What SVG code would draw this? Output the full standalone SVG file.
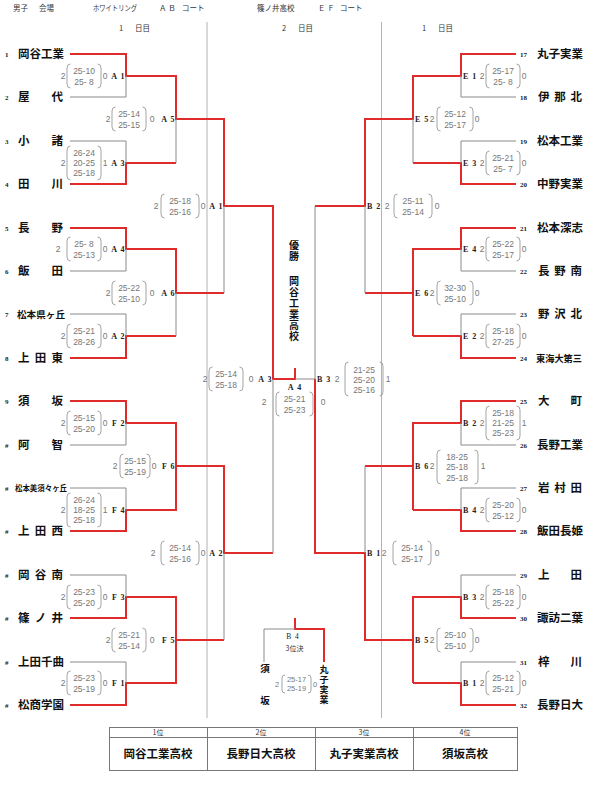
<svg xmlns="http://www.w3.org/2000/svg" xmlns:xlink="http://www.w3.org/1999/xlink" width="589" height="792" viewBox="0 0 589 792">
<style>
.r{fill:none;stroke:#e02b2b;stroke-width:2}
.g{fill:none;stroke:#8a8a8a;stroke-width:1}
.d{fill:none;stroke:#a0a0a0;stroke-width:0.8}
.s{font-family:'Liberation Sans',sans-serif;font-size:8.5px;fill:#777;text-anchor:middle}
.n{font-family:'Liberation Sans',sans-serif;font-size:8.5px;fill:#777;text-anchor:middle}
.lb{font-family:'Liberation Serif',serif;font-size:8px;font-weight:bold;fill:#222;word-spacing:2px}
.le{text-anchor:end}
.tn{font-family:'Liberation Serif',serif;font-size:7px;font-weight:bold;fill:#222}
.nm{font-family:'Noto Sans CJK JP',sans-serif;font-size:11.5px;font-weight:700;fill:#111}
.h{font-family:'Noto Sans CJK JP',sans-serif;font-size:7.5px;fill:#333}
.v{font-family:'Noto Sans CJK JP',sans-serif;font-size:10px;font-weight:700;fill:#111;text-anchor:middle}
.sm{font-family:'Liberation Sans',sans-serif;font-size:7.5px;fill:#777;text-anchor:middle}
.th{font-family:'Noto Sans CJK JP',sans-serif;font-size:7px;fill:#333;text-anchor:middle}
.tw{font-family:'Noto Sans CJK JP',sans-serif;font-size:11.5px;font-weight:700;fill:#111;text-anchor:middle}
</style>
<defs>
<path id="pl2" d="M3.5,-12Q0,-12 0,-8V8Q0,12 3.5,12" fill="none" stroke="#9a9a9a" stroke-width="0.9"/>
<path id="pr2" d="M-3.5,-12Q0,-12 0,-8V8Q0,12 -3.5,12" fill="none" stroke="#9a9a9a" stroke-width="0.9"/>
<path id="pl3" d="M3.5,-17Q0,-17 0,-13V13Q0,17 3.5,17" fill="none" stroke="#9a9a9a" stroke-width="0.9"/>
<path id="pr3" d="M-3.5,-17Q0,-17 0,-13V13Q0,17 -3.5,17" fill="none" stroke="#9a9a9a" stroke-width="0.9"/>
<path id="plS" d="M3,-9Q0,-9 0,-6V6Q0,9 3,9" fill="none" stroke="#9a9a9a" stroke-width="0.9"/>
<path id="prS" d="M-3,-9Q0,-9 0,-6V6Q0,9 -3,9" fill="none" stroke="#9a9a9a" stroke-width="0.9"/>
</defs>
<rect width="589" height="792" fill="#fff"/>

<g id="header">
<text class="h" x="13" y="11">男子</text>
<text class="h" x="39" y="11">会場</text>
<text class="h" x="93" y="11" textLength="44" lengthAdjust="spacingAndGlyphs">ホワイトリング</text>
<text class="h" x="159" y="11">Ａ Ｂ</text>
<text class="h" x="182" y="11">コート</text>
<text class="h" x="257" y="11">篠ノ井高校</text>
<text class="h" x="318" y="11">Ｅ Ｆ</text>
<text class="h" x="340" y="11">コート</text>
<text class="h" x="119" y="31">1</text><text class="h" x="135" y="31">日目</text>
<text class="h" x="282" y="31">2</text><text class="h" x="298" y="31">日目</text>
<text class="h" x="422" y="31">1</text><text class="h" x="438" y="31">日目</text>
</g>

<g id="dividers">
<path class="d" d="M207,22V718M381.5,22V718"/>
</g>

<g id="connectors">
<path class="r" d="M70,54H126V76H176V119H224V206H273V379H295V368"/>
<path class="r" d="M70,184H126V163H176"/>
<path class="r" d="M70,228H126V249H176V293H224"/>
<path class="r" d="M70,358H126V336H176"/>
<path class="r" d="M70,401H126V423H176V466H224V553H273"/>
<path class="r" d="M70,531H126V510H176V466"/>
<path class="r" d="M70,618H126V597H176V683H126V705H70M176,640H224"/>
<path class="g" d="M70,97H126V76M70,141H126V163M176,119V163M70,271H126V249M70,314H126V336M176,293V336M224,206V293M273,379V553M70,445H126V423M70,488H126V510M70,575H126V597M70,662H126V683M224,553V640M295,379H315"/>
<path class="r" d="M516,54H461V76H413V119H365V206H315"/>
<path class="r" d="M516,184H461V163H413"/>
<path class="r" d="M516,228H461V249H413V336M413,293H365"/>
<path class="r" d="M516,358H461V336H413"/>
<path class="r" d="M516,401H461V423H413V510M413,466H365"/>
<path class="r" d="M516,531H461V510H413"/>
<path class="r" d="M516,618H461V597H413V683M413,640H365V553H315V379"/>
<path class="r" d="M516,705H461V683H413"/>
<path class="g" d="M516,97H461V76M516,141H461V163M413,119V163M516,271H461V249M516,314H461V336M365,206V293M516,445H461V423M516,488H461V510M516,575H461V597M516,662H461V683M365,466V553M315,206V379"/>
<path class="r" d="M295,618V629H324V662"/>
<path class="g" d="M295,629H264V662"/>
</g>

<g id="teams-left">
<g id="t1"><text class="tn" x="5" y="56.5">1</text><text class="nm" x="18" y="58">岡谷工業</text></g>
<g id="t2"><text class="tn" x="5" y="99.5">2</text><text class="nm" x="18 51.5" y="101">屋代</text></g>
<g id="t3"><text class="tn" x="5" y="143.5">3</text><text class="nm" x="18 51.5" y="145">小諸</text></g>
<g id="t4"><text class="tn" x="5" y="186.5">4</text><text class="nm" x="18 51.5" y="188">田川</text></g>
<g id="t5"><text class="tn" x="5" y="230.5">5</text><text class="nm" x="18 51.5" y="232">長野</text></g>
<g id="t6"><text class="tn" x="5" y="273.5">6</text><text class="nm" x="18 51.5" y="275">飯田</text></g>
<g id="t7"><text class="tn" x="5" y="316.5">7</text><text class="nm" x="17" y="317.5" style="font-size:9.5px" textLength="48" lengthAdjust="spacingAndGlyphs">松本県ヶ丘</text></g>
<g id="t8"><text class="tn" x="5" y="360.5">8</text><text class="nm" x="18 34.75 51.5" y="362">上田東</text></g>
<g id="t9"><text class="tn" x="5" y="403.5">9</text><text class="nm" x="18 51.5" y="405">須坂</text></g>
<g id="t10"><text class="tn" x="5" y="447.5">#</text><text class="nm" x="18 51.5" y="449">阿智</text></g>
<g id="t11"><text class="tn" x="5" y="490.5">#</text><text class="nm" x="15" y="491" style="font-size:7.5px" textLength="52" lengthAdjust="spacingAndGlyphs">松本美須々ヶ丘</text></g>
<g id="t12"><text class="tn" x="5" y="533.5">#</text><text class="nm" x="18 34.75 51.5" y="535">上田西</text></g>
<g id="t13"><text class="tn" x="5" y="577.5">#</text><text class="nm" x="18 34.75 51.5" y="579">岡谷南</text></g>
<g id="t14"><text class="tn" x="5" y="620.5">#</text><text class="nm" x="18 34.75 51.5" y="622">篠ノ井</text></g>
<g id="t15"><text class="tn" x="5" y="664.5">#</text><text class="nm" x="18" y="666">上田千曲</text></g>
<g id="t16"><text class="tn" x="5" y="707.5">#</text><text class="nm" x="18" y="709">松商学園</text></g>
</g>

<g id="teams-right">
<g id="t17"><text class="tn" x="520" y="56.5">17</text><text class="nm" x="537" y="58">丸子実業</text></g>
<g id="t18"><text class="tn" x="520" y="99.5">18</text><text class="nm" x="538 554.25 570.5" y="101">伊那北</text></g>
<g id="t19"><text class="tn" x="520" y="143.5">19</text><text class="nm" x="537" y="145">松本工業</text></g>
<g id="t20"><text class="tn" x="520" y="186.5">20</text><text class="nm" x="537" y="188">中野実業</text></g>
<g id="t21"><text class="tn" x="520" y="230.5">21</text><text class="nm" x="537" y="232">松本深志</text></g>
<g id="t22"><text class="tn" x="520" y="273.5">22</text><text class="nm" x="538 554.25 570.5" y="275">長野南</text></g>
<g id="t23"><text class="tn" x="520" y="316.5">23</text><text class="nm" x="538 554.25 570.5" y="318">野沢北</text></g>
<g id="t24"><text class="tn" x="520" y="360.5">24</text><text class="nm" x="536" y="361.5" style="font-size:9.5px" textLength="46" lengthAdjust="spacingAndGlyphs">東海大第三</text></g>
<g id="t25"><text class="tn" x="520" y="403.5">25</text><text class="nm" x="538 570.5" y="405">大町</text></g>
<g id="t26"><text class="tn" x="520" y="447.5">26</text><text class="nm" x="537" y="449">長野工業</text></g>
<g id="t27"><text class="tn" x="520" y="490.5">27</text><text class="nm" x="538 554.25 570.5" y="492">岩村田</text></g>
<g id="t28"><text class="tn" x="520" y="533.5">28</text><text class="nm" x="537" y="535">飯田長姫</text></g>
<g id="t29"><text class="tn" x="520" y="577.5">29</text><text class="nm" x="538 570.5" y="579">上田</text></g>
<g id="t30"><text class="tn" x="520" y="620.5">30</text><text class="nm" x="537" y="622">諏訪二葉</text></g>
<g id="t31"><text class="tn" x="520" y="664.5">31</text><text class="nm" x="538 570.5" y="666">梓川</text></g>
<g id="t32"><text class="tn" x="520" y="707.5">32</text><text class="nm" x="537" y="709">長野日大</text></g>
</g>

<g id="matches-left">
<g id="mA1"><text class="n" x="63" y="79">2</text><use href="#pl2" x="67" y="76"/><text class="s" x="84" y="74">25-10</text><text class="s" x="84" y="85">25- 8</text><use href="#pr2" x="101" y="76"/><text class="n" x="105" y="79">0</text><text class="lb le" x="124.5" y="79">A 1</text></g>
<g id="mA3"><text class="n" x="63" y="166">2</text><use href="#pl3" x="67" y="163"/><text class="s" x="84" y="156">26-24</text><text class="s" x="84" y="166">20-25</text><text class="s" x="84" y="176">25-18</text><use href="#pr3" x="101" y="163"/><text class="n" x="105" y="166">1</text><text class="lb le" x="124.5" y="166">A 3</text></g>
<g id="mA4"><text class="n" x="58" y="252">2</text><use href="#pl2" x="67" y="249"/><text class="s" x="84" y="247">25- 8</text><text class="s" x="84" y="258">25-13</text><use href="#pr2" x="101" y="249"/><text class="n" x="105" y="252">0</text><text class="lb le" x="124.5" y="252">A 4</text></g>
<g id="mA2"><text class="n" x="63" y="339">2</text><use href="#pl2" x="67" y="336"/><text class="s" x="84" y="334">25-21</text><text class="s" x="84" y="345">28-26</text><use href="#pr2" x="101" y="336"/><text class="n" x="105" y="339">0</text><text class="lb le" x="124.5" y="339">A 2</text></g>
<g id="mF2"><text class="n" x="63" y="426">2</text><use href="#pl2" x="67" y="423"/><text class="s" x="84" y="421">25-15</text><text class="s" x="84" y="432">25-20</text><use href="#pr2" x="101" y="423"/><text class="n" x="105" y="426">0</text><text class="lb le" x="124.5" y="426">F 2</text></g>
<g id="mF4"><text class="n" x="63" y="513">2</text><use href="#pl3" x="67" y="510"/><text class="s" x="84" y="503">26-24</text><text class="s" x="84" y="513">18-25</text><text class="s" x="84" y="523">25-18</text><use href="#pr3" x="101" y="510"/><text class="n" x="105" y="513">1</text><text class="lb le" x="124.5" y="513">F 4</text></g>
<g id="mF3"><text class="n" x="63" y="600">2</text><use href="#pl2" x="67" y="597"/><text class="s" x="84" y="595">25-23</text><text class="s" x="84" y="606">25-20</text><use href="#pr2" x="101" y="597"/><text class="n" x="105" y="600">0</text><text class="lb le" x="124.5" y="600">F 3</text></g>
<g id="mF1"><text class="n" x="63" y="686">2</text><use href="#pl2" x="67" y="683"/><text class="s" x="84" y="681">25-23</text><text class="s" x="84" y="692">25-19</text><use href="#pr2" x="101" y="683"/><text class="n" x="105" y="686">0</text><text class="lb le" x="124.5" y="686">F 1</text></g>
<g id="mA5"><text class="n" x="108" y="122">2</text><use href="#pl2" x="112" y="119"/><text class="s" x="129" y="117">25-14</text><text class="s" x="129" y="128">25-15</text><use href="#pr2" x="146" y="119"/><text class="n" x="152" y="122">0</text><text class="lb le" x="174.5" y="122">A 5</text></g>
<g id="mA6"><text class="n" x="108" y="296">2</text><use href="#pl2" x="112" y="293"/><text class="s" x="129" y="291">25-22</text><text class="s" x="129" y="302">25-10</text><use href="#pr2" x="146" y="293"/><text class="n" x="152" y="296">0</text><text class="lb le" x="174.5" y="296">A 6</text></g>
<g id="mF6"><text class="n" x="115" y="469">2</text><use href="#pl2" x="120" y="466"/><text class="s" x="135" y="464">25-15</text><text class="s" x="135" y="475">25-19</text><use href="#pr2" x="150" y="466"/><text class="n" x="154" y="469">0</text><text class="lb le" x="174.5" y="469">F 6</text></g>
<g id="mF5"><text class="n" x="108" y="643">2</text><use href="#pl2" x="112" y="640"/><text class="s" x="129" y="638">25-21</text><text class="s" x="129" y="649">25-14</text><use href="#pr2" x="146" y="640"/><text class="n" x="152" y="643">0</text><text class="lb le" x="174.5" y="643">F 5</text></g>
<g id="mA1d2"><text class="n" x="156" y="209">2</text><use href="#pl2" x="161" y="206"/><text class="s" x="180" y="204">25-18</text><text class="s" x="180" y="215">25-16</text><use href="#pr2" x="199" y="206"/><text class="n" x="203" y="209">0</text><text class="lb le" x="222.5" y="209">A 1</text></g>
<g id="mA2d2"><text class="n" x="153" y="556">2</text><use href="#pl2" x="161" y="553"/><text class="s" x="180" y="551">25-14</text><text class="s" x="180" y="562">25-16</text><use href="#pr2" x="199" y="553"/><text class="n" x="203" y="556">0</text><text class="lb le" x="222.5" y="556">A 2</text></g>
<g id="mA3d2"><text class="n" x="205" y="382">2</text><use href="#pl2" x="209" y="379"/><text class="s" x="226" y="377">25-14</text><text class="s" x="226" y="388">25-18</text><use href="#pr2" x="243" y="379"/><text class="n" x="251" y="382">0</text><text class="lb le" x="271.5" y="382">A 3</text></g>
</g>

<g id="matches-right">
<g id="mE1"><text class="lb" x="463" y="79">E 1</text><text class="n" x="482" y="79">2</text><use href="#pl2" x="486" y="76"/><text class="s" x="503" y="74">25-17</text><text class="s" x="503" y="85">25- 8</text><use href="#pr2" x="520" y="76"/><text class="n" x="524" y="79">0</text></g>
<g id="mE3"><text class="lb" x="463" y="166">E 3</text><text class="n" x="482" y="166">2</text><use href="#pl2" x="486" y="163"/><text class="s" x="503" y="161">25-21</text><text class="s" x="503" y="172">25- 7</text><use href="#pr2" x="520" y="163"/><text class="n" x="524" y="166">0</text></g>
<g id="mE4"><text class="lb" x="463" y="252">E 4</text><text class="n" x="482" y="252">2</text><use href="#pl2" x="486" y="249"/><text class="s" x="503" y="247">25-22</text><text class="s" x="503" y="258">25-17</text><use href="#pr2" x="520" y="249"/><text class="n" x="524" y="252">0</text></g>
<g id="mE2"><text class="lb" x="463" y="339">E 2</text><text class="n" x="482" y="339">2</text><use href="#pl2" x="486" y="336"/><text class="s" x="503" y="334">25-18</text><text class="s" x="503" y="345">27-25</text><use href="#pr2" x="520" y="336"/><text class="n" x="524" y="339">0</text></g>
<g id="mB2"><text class="lb" x="463" y="426">B 2</text><text class="n" x="482" y="426">2</text><use href="#pl3" x="486" y="423"/><text class="s" x="503" y="416">25-18</text><text class="s" x="503" y="426">21-25</text><text class="s" x="503" y="436">25-23</text><use href="#pr3" x="520" y="423"/><text class="n" x="524" y="426">1</text></g>
<g id="mB4"><text class="lb" x="463" y="513">B 4</text><text class="n" x="482" y="513">2</text><use href="#pl2" x="486" y="510"/><text class="s" x="503" y="508">25-20</text><text class="s" x="503" y="519">25-12</text><use href="#pr2" x="520" y="510"/><text class="n" x="524" y="513">0</text></g>
<g id="mB3"><text class="lb" x="463" y="600">B 3</text><text class="n" x="482" y="600">2</text><use href="#pl2" x="486" y="597"/><text class="s" x="503" y="595">25-18</text><text class="s" x="503" y="606">25-22</text><use href="#pr2" x="520" y="597"/><text class="n" x="524" y="600">0</text></g>
<g id="mB1"><text class="lb" x="463" y="686">B 1</text><text class="n" x="482" y="686">2</text><use href="#pl2" x="486" y="683"/><text class="s" x="503" y="681">25-12</text><text class="s" x="503" y="692">25-21</text><use href="#pr2" x="520" y="683"/><text class="n" x="524" y="686">0</text></g>
<g id="mE5"><text class="lb" x="415" y="122">E 5</text><text class="n" x="432" y="122">2</text><use href="#pl2" x="437" y="119"/><text class="s" x="455" y="117">25-12</text><text class="s" x="455" y="128">25-17</text><use href="#pr2" x="473" y="119"/><text class="n" x="477" y="122">0</text></g>
<g id="mE6"><text class="lb" x="415" y="296">E 6</text><text class="n" x="432" y="296">2</text><use href="#pl2" x="437" y="293"/><text class="s" x="455" y="291">32-30</text><text class="s" x="455" y="302">25-10</text><use href="#pr2" x="473" y="293"/><text class="n" x="477" y="296">0</text></g>
<g id="mB6"><text class="lb" x="415" y="469">B 6</text><text class="n" x="432" y="469">2</text><use href="#pl3" x="437" y="467"/><text class="s" x="457" y="460">18-25</text><text class="s" x="457" y="470">25-18</text><text class="s" x="457" y="481">25-18</text><use href="#pr3" x="478" y="467"/><text class="n" x="483" y="469">1</text></g>
<g id="mB5"><text class="lb" x="415" y="643">B 5</text><text class="n" x="432" y="643">2</text><use href="#pl2" x="437" y="640"/><text class="s" x="455" y="638">25-10</text><text class="s" x="455" y="649">25-10</text><use href="#pr2" x="473" y="640"/><text class="n" x="477" y="643">0</text></g>
<g id="mB2d2"><text class="lb" x="367" y="209">B 2</text><text class="n" x="387" y="209">2</text><use href="#pl2" x="394" y="206"/><text class="s" x="413" y="204">25-11</text><text class="s" x="413" y="215">25-14</text><use href="#pr2" x="432" y="206"/><text class="n" x="437" y="209">0</text></g>
<g id="mB1d2"><text class="lb" x="367" y="556">B 1</text><text class="n" x="384" y="556">2</text><use href="#pl2" x="393" y="553"/><text class="s" x="412" y="551">25-14</text><text class="s" x="412" y="562">25-17</text><use href="#pr2" x="431" y="553"/><text class="n" x="437" y="556">0</text></g>
<g id="mB3d2"><text class="lb" x="317" y="382">B 3</text><text class="n" x="337" y="382">2</text><use href="#pl3" x="345" y="379"/><text class="s" x="364" y="373">21-25</text><text class="s" x="364" y="383">25-20</text><text class="s" x="364" y="393">25-16</text><use href="#pr3" x="383" y="379"/><text class="n" x="388" y="382">1</text></g>
</g>

<g id="final">
<text class="lb" x="294.5" y="390" text-anchor="middle">A 4</text>
<text class="n" x="264" y="405">2</text><use href="#pl2" x="276" y="404"/><text class="s" x="294.5" y="402">25-21</text><text class="s" x="294.5" y="413">25-23</text><use href="#pr2" x="313" y="404"/><text class="n" x="323" y="405">0</text>
</g>

<g id="champion">
<text class="v" x="294 294 294 294 294 294 294 294" y="249 260 285 296 307 318 329 340">優勝岡谷工業高校</text>
</g>

<g id="third-place">
<text class="lb" x="292.5" y="639" text-anchor="middle" style="font-weight:normal;font-size:7.5px">B 4</text>
<text class="th" x="294.5" y="651">3位決</text>
<text class="v" x="265 265" y="672 704" style="font-size:9.5px">須坂</text>
<text class="v" x="324 324 324 324" y="672.5 682.5 692.5 702.5" style="font-size:9px">丸子実業</text>
<text class="sm" x="277" y="686.5">2</text><use href="#plS" x="282" y="684"/><text class="sm" x="296.5" y="681.5">25-17</text><text class="sm" x="296.5" y="690.5">25-19</text><use href="#prS" x="311" y="684"/><text class="sm" x="315" y="686.5">0</text>
</g>

<g id="ranking">
<rect x="109.5" y="727.5" width="408" height="43" fill="none" stroke="#777" stroke-width="1"/>
<path d="M109.5,737.5H517.5M207.5,727.5V770.5M315.5,727.5V770.5M413.5,727.5V770.5" fill="none" stroke="#777" stroke-width="1"/>
<text class="th" x="158" y="735">1位</text>
<text class="th" x="261" y="735">2位</text>
<text class="th" x="364" y="735">3位</text>
<text class="th" x="465" y="735">4位</text>
<text class="tw" x="158" y="758">岡谷工業高校</text>
<text class="tw" x="261" y="758">長野日大高校</text>
<text class="tw" x="364" y="758">丸子実業高校</text>
<text class="tw" x="465" y="758">須坂高校</text>
</g>
</svg>
